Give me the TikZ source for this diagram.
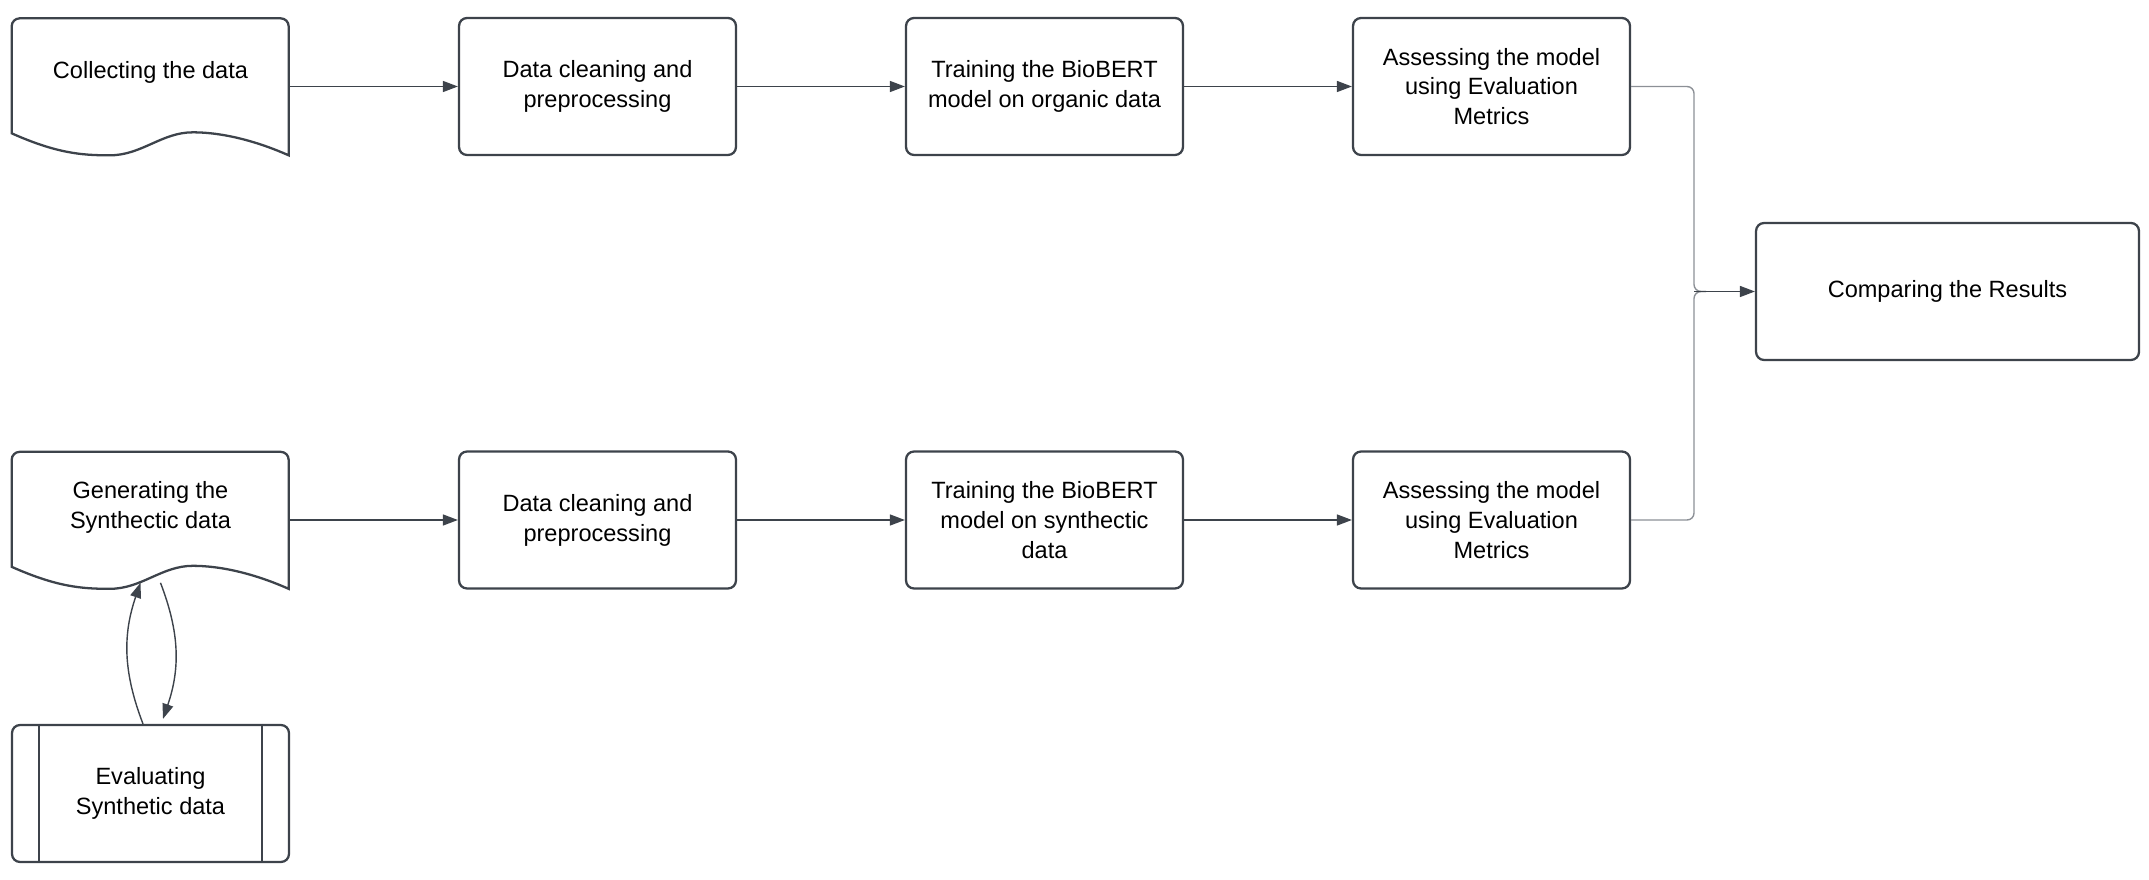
\documentclass[tikz,border=0pt]{standalone}
\usepackage{fontspec}
\setmainfont{Liberation Sans}
\usetikzlibrary{arrows.meta,calc}

\definecolor{linegray}{HTML}{3D434B}
\definecolor{mergegray}{HTML}{8C9096}

\tikzset{
  stepbox/.style={draw=linegray, line width=1.3pt, rounded corners=0.16cm,
    minimum width=5.54cm, minimum height=2.74cm, inner sep=0pt, align=center,
    font=\fontsize{13.4}{17}\selectfont},
  docbox/.style={minimum width=5.54cm, minimum height=2.74cm, inner sep=0pt},
  doctext/.style={align=center, font=\fontsize{13.4}{17}\selectfont},
  docline/.style={draw=linegray, line width=1.3pt},
  flow/.style={draw=linegray, line width=0.8pt, -{Triangle[length=0.3cm,width=0.22cm]}},
  merge/.style={draw=mergegray, line width=0.8pt, rounded corners=0.14cm},
}

% outline of a document shape with a wavy bottom
\newcommand{\docshape}[1]{%
  \begin{scope}[shift={(#1.south west)}]
    \draw[docline] (0,22) [rounded corners=0.16cm] -- (0,137) -- (277,137) -- (277,70)
      [sharp corners] -- (277,0)
      .. controls (250,12) and (215,23) .. (181,23)
      .. controls (150,23) and (130,0) .. (98,0)
      .. controls (70,0) and (45,2) .. (0,22) -- cycle;
  \end{scope}}

\begin{document}
\begin{tikzpicture}[x=0.02cm,y=0.02cm]
\useasboundingbox (0,0) rectangle (2149,879);

% upper row: organic data
\node[docbox, label={[doctext, yshift=0.28cm]center:Collecting the data}] (collect) at (150.5,792.5) {};
\docshape{collect}
\node[stepbox] (clean1) at (597.5,792.5) {Data cleaning and\\preprocessing};
\node[stepbox] (train1) at (1044.5,792.5) {Training the BioBERT\\model on organic data};
\node[stepbox] (assess1) at (1491.5,792.5) {Assessing the model\\using Evaluation\\Metrics};

% lower row: synthetic data
\node[docbox, label={[doctext, yshift=0.26cm]center:Generating the\\Synthectic data}] (gen) at (150.5,359) {};
\docshape{gen}
\node[stepbox] (clean2) at (597.5,359) {Data cleaning and\\preprocessing};
\node[stepbox] (train2) at (1044.5,359) {Training the BioBERT\\model on synthectic\\data};
\node[stepbox] (assess2) at (1491.5,359) {Assessing the model\\using Evaluation\\Metrics};

\node[stepbox] (evaluate) at (150.5,85.5) {Evaluating\\Synthetic data};
\draw[docline] ([xshift=0.56cm]evaluate.north west) -- ([xshift=0.56cm]evaluate.south west);
\draw[docline] ([xshift=-0.56cm]evaluate.north east) -- ([xshift=-0.56cm]evaluate.south east);

\node[stepbox, minimum width=7.66cm] (compare) at (1947.5,587.5) {Comparing the Results};

% connectors
\draw[flow] (collect.east) -- (clean1.west);
\draw[flow] (clean1.east) -- (train1.west);
\draw[flow] (train1.east) -- (assess1.west);
\draw[flow] (gen.east) -- (clean2.west);
\draw[flow] (clean2.east) -- (train2.west);
\draw[flow] (train2.east) -- (assess2.west);

\coordinate (join) at (1694,587.5);
\draw[merge] (assess1.east) -| (join) -- ++(12,0);
\draw[merge] (assess2.east) -| (join) -- ++(12,0);
\draw[flow] (join) -- (compare.west);

\draw[flow] ([xshift=-0.15cm]evaluate.north) to[bend left=20] ([xshift=-0.2cm,yshift=0.12cm]gen.south);
\draw[flow] ([xshift=0.2cm,yshift=0.12cm]gen.south) to[bend left=20] ([xshift=0.25cm,yshift=0.1cm]evaluate.north);
\end{tikzpicture}
\end{document}
